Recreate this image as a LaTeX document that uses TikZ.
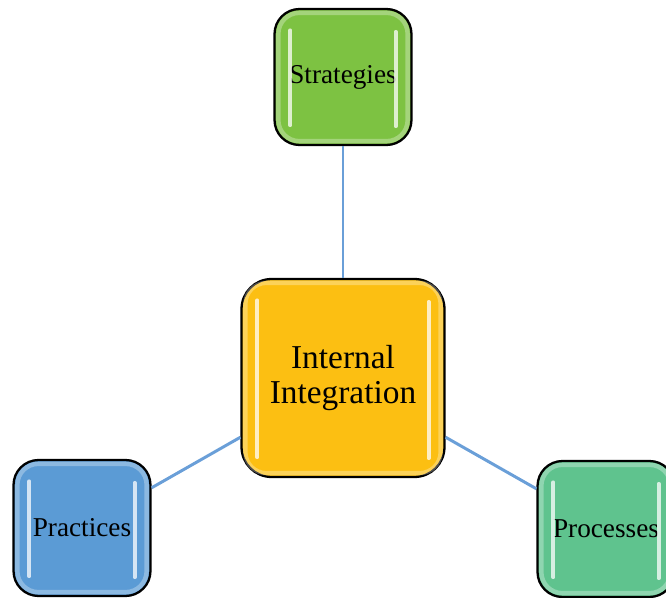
\documentclass[tikz,border=0pt]{standalone}
\usepackage{fontspec}
\setmainfont{Liberation Serif}
\usetikzlibrary{positioning,calc}

\definecolor{stratgreen}{HTML}{7DC242}
\definecolor{intyellow}{HTML}{FCBF12}
\definecolor{pracblue}{HTML}{5B9BD5}
\definecolor{procgreen}{HTML}{5FC38E}
\definecolor{linkblue}{HTML}{6A9FD8}

\tikzset{
  box/.style={draw=black, line width=1.3pt, rounded corners=0.5cm,
    minimum width=2.74cm, minimum height=2.72cm, inner sep=2pt, align=center,
    font=\fontsize{15.5}{17}\selectfont},
  bigbox/.style={box, rounded corners=0.6cm, minimum width=4.06cm,
    minimum height=3.96cm, font=\fontsize{19}{19.5}\selectfont},
  link/.style={draw=linkblue, line width=1.7pt},
  shine/.style={draw=white, line width=2.2pt, line cap=round, opacity=0.75},
}

% light rim and two shiny strips inside a box
\newcommand{\gloss}[1]{
  \draw[white, opacity=0.3, line width=2.5pt, rounded corners=0.42cm]
    ($(#1.north west)+(1mm,-1mm)$) rectangle ($(#1.south east)+(-1mm,1mm)$);
  \draw[shine] ($(#1.north west)+(3.4mm,-4.5mm)$) -- ($(#1.south west)+(3.4mm,4.2mm)$);
  \draw[shine] ($(#1.north east)+(-3.4mm,-4.8mm)$) -- ($(#1.south east)+(-3.4mm,4mm)$);
}

\begin{document}
\begin{tikzpicture}[x=0.02cm, y=-0.02cm]
  \useasboundingbox (0,0) rectangle (666,598);

  % the four boxes
  \node[bigbox, fill=intyellow] (core) at (343,378) {Internal\\Integration};
  \node[box, fill=stratgreen] (strat) at (343,77) {Strategies};
  \node[box, fill=pracblue] (prac) at (82,528) {Practices};
  \node[box, fill=procgreen] (proc) at (606,529) {Processes};

  \gloss{core}
  \gloss{strat}
  \gloss{prac}
  \gloss{proc}

  % links to the centre
  \draw[link] (strat.south) -- (core.north);
  \draw[link] (prac.30) -- (core.210);
  \draw[link] (core.-30) -- (proc.150);
\end{tikzpicture}
\end{document}
